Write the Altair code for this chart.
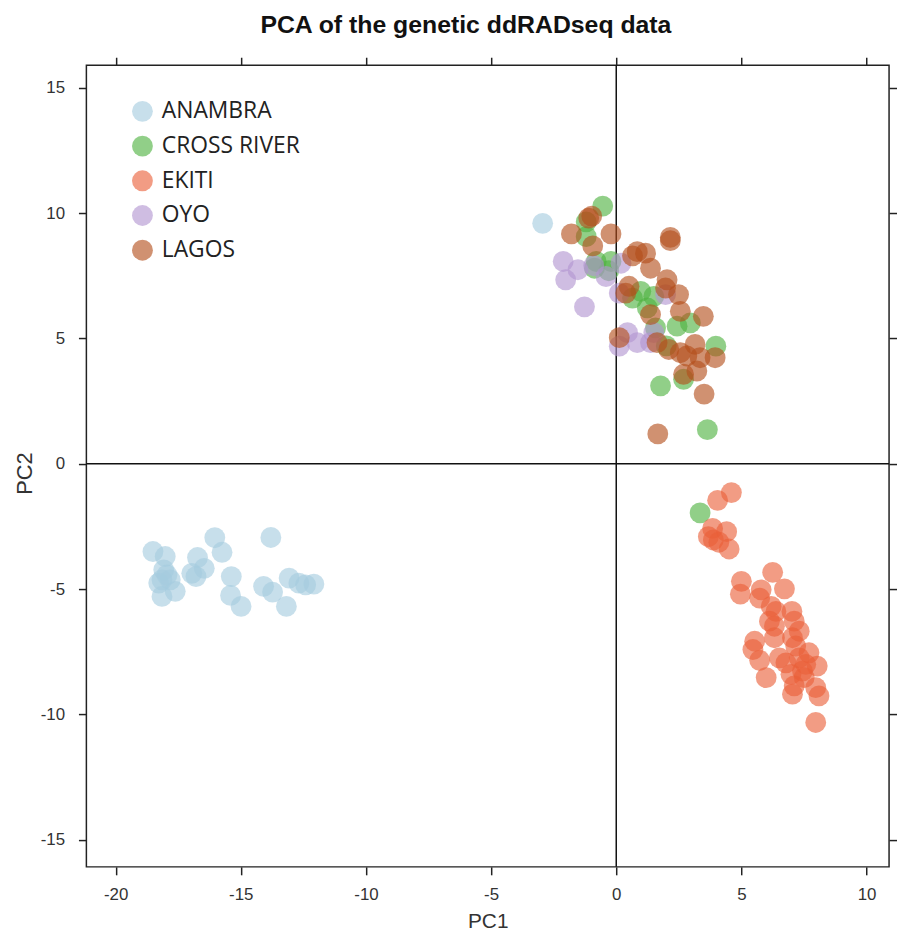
import altair as alt
import pandas as pd

# ---- data ----
groups = ["ANAMBRA", "CROSS RIVER", "EKITI", "OYO", "LAGOS"]
colors = ["#a5cbde", "#4eb13f", "#ea6038", "#b294d1", "#b34e1a"]

anambra_x = [-18.51, -18.02, -18.08, -18.15, -18.28, -17.82, -17.62, -18.15, -17.95,
             -16.73, -16.46, -16.96, -16.79, -16.04, -15.75, -15.38, -15.41, -14.99,
             -13.80, -14.09, -13.73, -13.18, -13.07, -12.68, -12.41, -12.08, -2.94]
anambra_y = [-3.50, -3.70, -4.23, -4.63, -4.76, -4.63, -5.09, -5.29, -4.43,
             -3.74, -4.17, -4.37, -4.50, -2.95, -3.53, -4.50, -5.25, -5.69,
             -2.94, -4.89, -5.12, -5.69, -4.56, -4.76, -4.83, -4.80, 9.59]

cross_x = [-0.54, -1.20, -1.20, -0.80, -0.87, -0.21, -0.30, 0.98, 0.65, 1.50,
           1.24, 1.57, 2.43, 2.96, 3.98, 2.00, 2.69, 1.77, 3.64, 3.35]
cross_y = [10.28, 9.65, 9.06, 8.07, 7.80, 8.07, 7.70, 6.88, 6.61, 6.68,
           6.22, 5.42, 5.49, 5.62, 4.69, 4.70, 3.37, 3.11, 1.36, -1.96]

ekiti_x = [4.60, 4.05, 3.85, 4.41, 3.88, 3.68, 4.51, 4.10, 6.25, 5.00, 4.96, 5.79,
           6.72, 5.73, 6.19, 6.38, 7.02, 6.12, 7.11, 6.32, 7.31, 7.04, 5.53, 6.32,
           5.46, 7.17, 7.70, 6.52, 5.73, 6.78, 7.31, 7.57, 8.03, 7.44, 6.98, 5.99,
           7.51, 7.11, 7.97, 7.04, 8.10, 7.97]
ekiti_y = [-1.15, -1.46, -2.58, -2.71, -3.04, -2.91, -3.40, -3.13, -4.33, -4.69, -5.20, -5.03,
           -4.99, -5.36, -5.69, -5.89, -5.89, -6.28, -6.28, -6.48, -6.68, -6.94, -7.08, -6.94,
           -7.41, -7.27, -7.54, -7.74, -7.84, -7.94, -7.74, -8.00, -8.07, -8.27, -8.40, -8.53,
           -8.53, -8.86, -8.93, -9.19, -9.26, -10.32]

oyo_x = [-2.12, -1.53, -2.02, 0.19, -0.41, -1.27, 0.12, 1.97, 0.45, 0.12, 0.84, 1.37, 1.50, -0.90]
oyo_y = [8.07, 7.74, 7.34, 8.00, 7.47, 6.26, 6.81, 6.75, 5.23, 4.69, 4.83, 4.83, 5.23, 7.90]

lagos_x = [-0.98, -1.79, -0.21, -0.94, 2.16, 2.16, 0.84, 1.17, 0.65, 1.37, 2.03, 0.51,
           0.38, 1.97, 2.49, 1.37, 2.56, 3.48, 0.12, 1.63, 2.10, 2.56, 3.15, 2.82,
           3.35, 3.95, 3.22, 2.69, 3.51, 1.66, -1.10]
lagos_y = [9.88, 9.17, 9.17, 8.69, 9.03, 8.90, 8.46, 8.40, 8.29, 7.80, 7.34, 7.08,
           6.81, 7.01, 6.75, 5.95, 6.08, 5.88, 5.03, 4.83, 4.56, 4.43, 4.76, 4.30,
           4.23, 4.23, 3.70, 3.57, 2.78, 1.19, 9.80]

x_ticks = [-20, -15, -10, -5, 0, 5, 10]
y_ticks = [-15, -10, -5, 0, 5, 10, 15]
x_domain = [-21.17, 10.90]
y_domain = [-16.08, 15.90]

series = [
    ("ANAMBRA", anambra_x, anambra_y),
    ("CROSS RIVER", cross_x, cross_y),
    ("EKITI", ekiti_x, ekiti_y),
    ("OYO", oyo_x, oyo_y),
    ("LAGOS", lagos_x, lagos_y),
]
rows = []
for order, (name, xs, ys) in enumerate(series):
    for a, b in zip(xs, ys):
        rows.append({"PC1": a, "PC2": b, "pop": name, "ord": order})
df = pd.DataFrame(rows)

zero_df = pd.DataFrame({"z": [0]})

TICK_FONT = "Liberation Sans Narrow, Arial Narrow, Liberation Sans"
W, H = 809, 808

xscale = alt.Scale(domain=x_domain, nice=False, zero=False)
yscale = alt.Scale(domain=y_domain, nice=False, zero=False)

common_axis = dict(grid=False, domain=False, tickSize=8, tickColor="#222222",
                   tickWidth=1.5, labelFont=TICK_FONT, labelFontSize=17,
                   labelColor="#333333", labelExpr="'' + datum.value")

points = alt.Chart(df).mark_point(
    filled=True, size=441, opacity=0.62, strokeWidth=1, shape="circle"
).encode(
    x=alt.X("PC1:Q", scale=xscale,
            axis=alt.Axis(orient="bottom", values=x_ticks, title="PC1",
                          labelPadding=20, labelBaseline="middle",
                          titleFont="Liberation Sans", titleFontSize=21,
                          titleFontWeight="normal", titleColor="#333333",
                          titleY=61, titleBaseline="alphabetic",
                          **common_axis)),
    y=alt.Y("PC2:Q", scale=yscale,
            axis=alt.Axis(orient="left", values=y_ticks, title="PC2",
                          labelPadding=14, labelAlign="right",
                          labelBaseline="middle",
                          titleFont="Liberation Sans", titleFontSize=22,
                          titleFontWeight="normal", titleColor="#333333",
                          titleX=-55, titleY=411, titleAngle=270,
                          titleBaseline="alphabetic", titleAlign="center",
                          **common_axis)),
    color=alt.Color("pop:N",
                    scale=alt.Scale(domain=groups, range=colors),
                    legend=alt.Legend(title=None, orient="none",
                                      legendX=45, legendY=35,
                                      symbolType="circle", symbolSize=441,
                                      symbolOpacity=0.62, symbolStrokeWidth=0,
                                      labelFont="Open Sans", labelFontSize=23,
                                      labelColor="#222222", labelOffset=8,
                                      rowPadding=11, padding=0)),
    order=alt.Order("ord:Q"),
)

vline = alt.Chart(zero_df).mark_rule(color="#111111", strokeWidth=1.5).encode(
    x=alt.X("z:Q", scale=xscale,
            axis=alt.Axis(orient="top", values=x_ticks, labels=False, title="",
                          **common_axis)),
)
hline = alt.Chart(zero_df).mark_rule(color="#111111", strokeWidth=1.5).encode(
    y=alt.Y("z:Q", scale=yscale,
            axis=alt.Axis(orient="right", values=y_ticks, labels=False, title="",
                          **common_axis)),
)

chart = alt.layer(vline, hline, points).properties(
    width=W, height=H,
    title=alt.TitleParams("PCA of the genetic ddRADseq data",
                          font="Liberation Sans", fontSize=25, fontWeight="bold",
                          color="#111111", anchor="middle", dx=-22,
                          baseline="alphabetic", offset=-1),
    autosize=alt.AutoSizeParams(type="none"),
    padding={"left": 79, "top": 54, "right": 8, "bottom": 61},
).configure_view(
    stroke="#222222", strokeWidth=1.5
)

chart.save("out.html", embed_options={"renderer": "svg", "actions": False})
